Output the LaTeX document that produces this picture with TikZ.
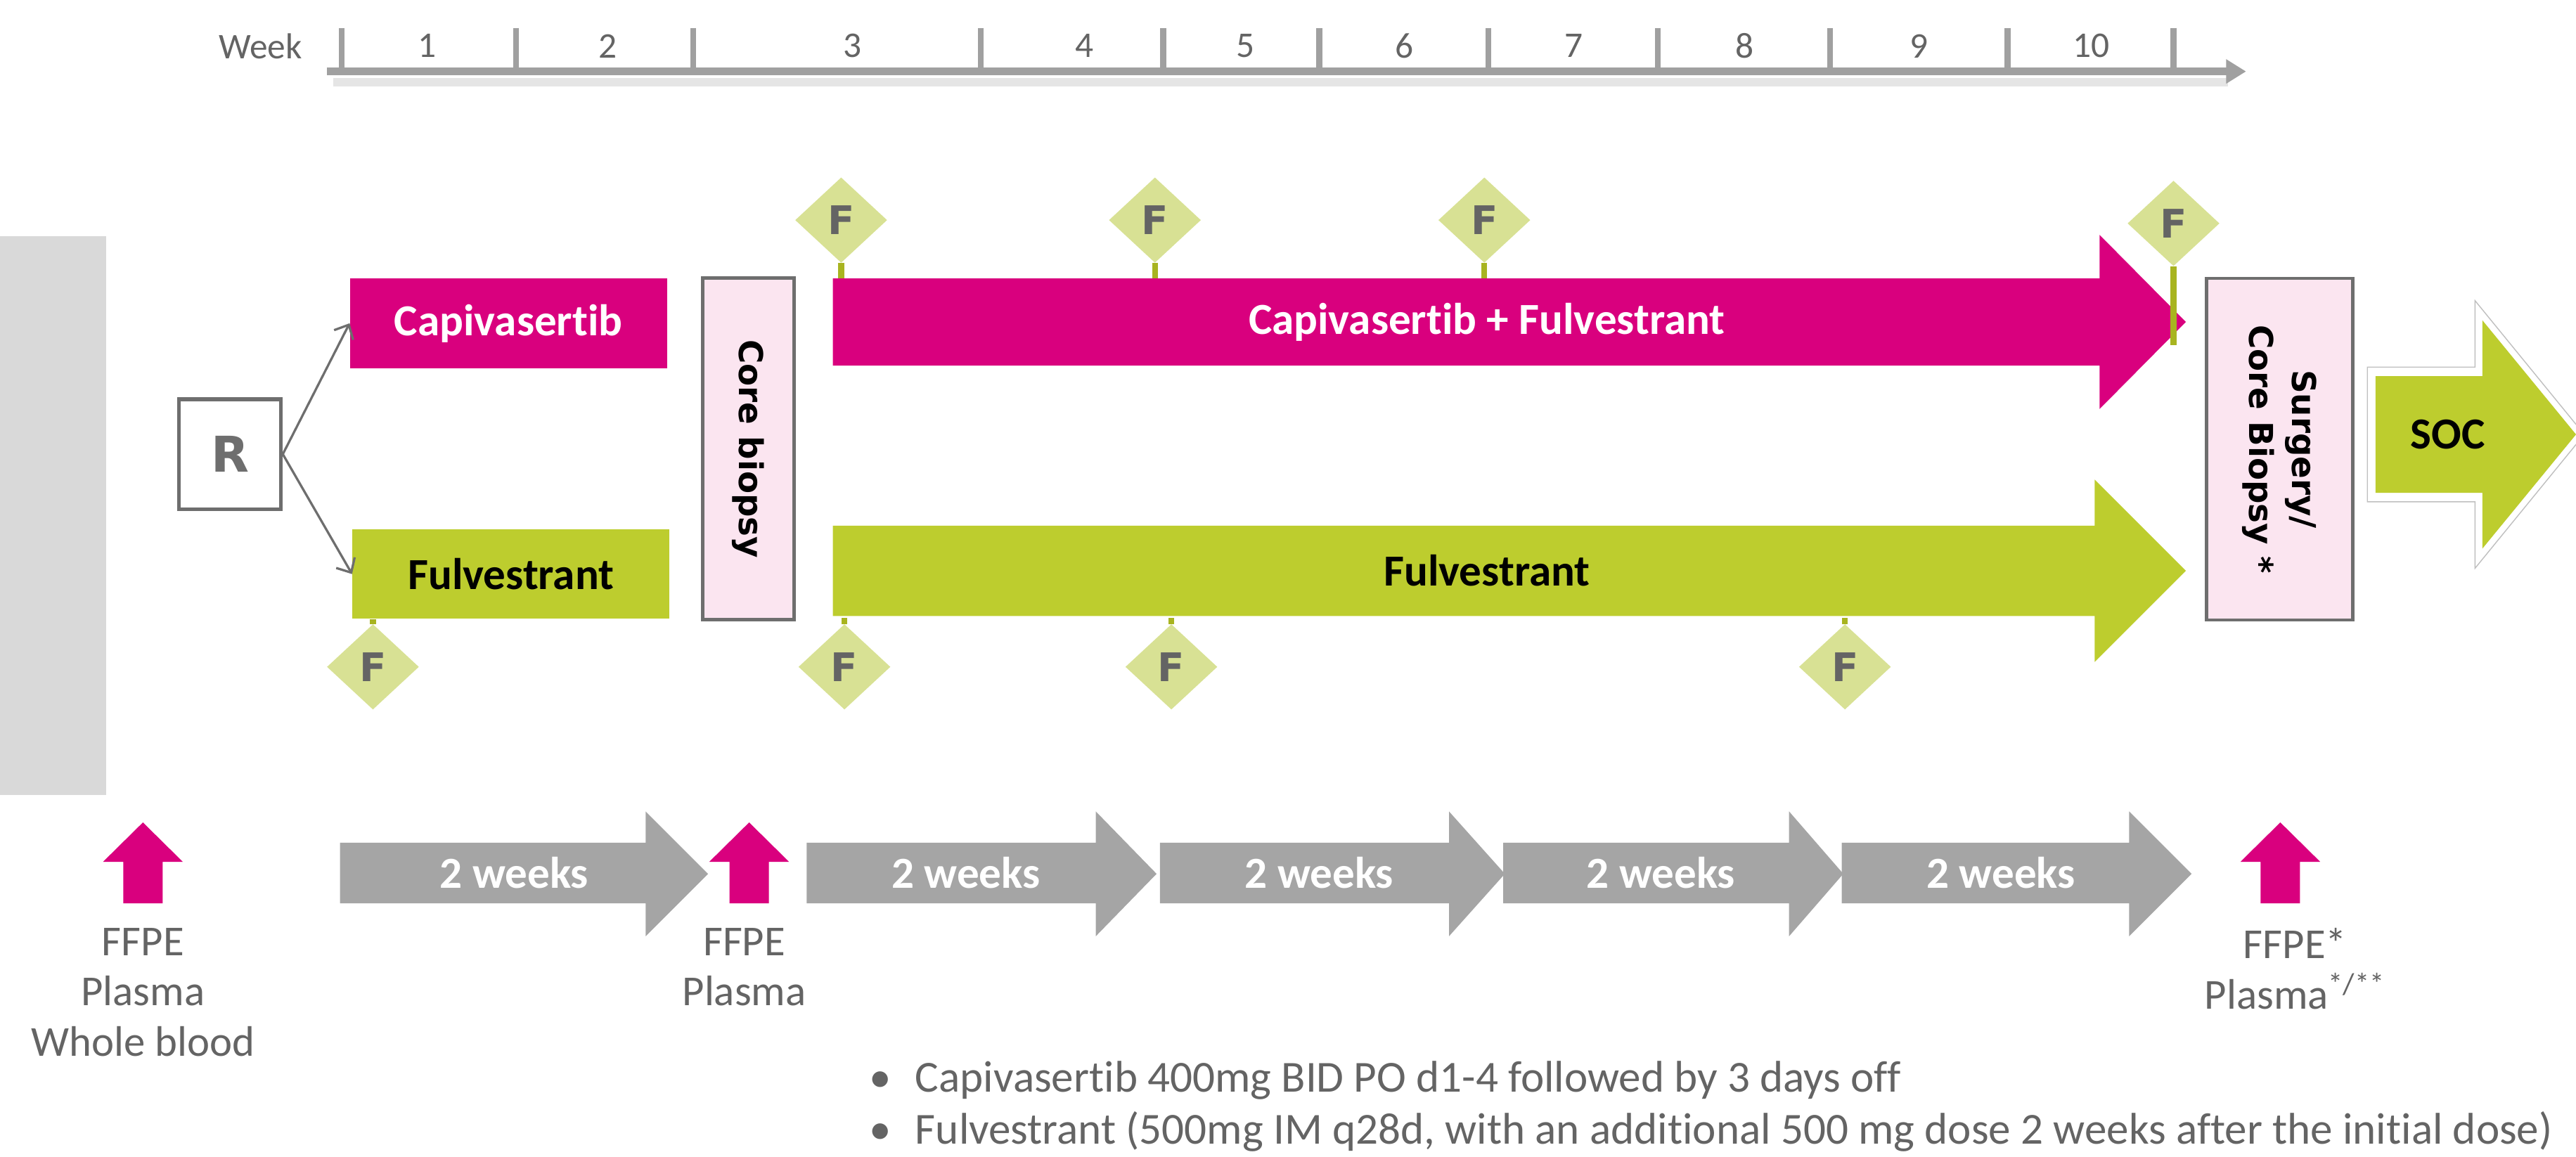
\documentclass[tikz,border=0pt]{standalone}
\usepackage{fontspec}
\setmainfont{Carlito}[Ligatures=NoCommon]
\newfontfamily\vfont{DejaVu Sans}
\usepackage{tikz}
\usetikzlibrary{arrows}
\usetikzlibrary{arrows.meta}
\usetikzlibrary{shapes.geometric}
\usetikzlibrary{positioning}

\definecolor{capired}{RGB}{217,0,126}
\definecolor{fulvgreen}{RGB}{189,205,46}
\definecolor{doselight}{RGB}{216,225,148}
\definecolor{stemgreen}{RGB}{168,180,32}
\definecolor{biopsypink}{RGB}{251,229,240}
\definecolor{boxgray}{RGB}{110,110,110}
\definecolor{sidegray}{RGB}{217,217,217}
\definecolor{weekgray}{RGB}{165,165,165}
\definecolor{axisgray}{RGB}{160,160,160}
\definecolor{labelgray}{RGB}{100,100,100}
\newcommand{\fsz}[2]{\fontsize{#1}{#2}\selectfont}

\begin{document}
\begin{tikzpicture}[x=1pt, y=-1pt]
			\tikzset{trtbox/.style = {minimum width=193pt, minimum height=54.5pt, inner sep=0pt, font=\bfseries\fsz{27}{32}}}
			\tikzset{armtext/.style = {inner sep=0pt, font=\bfseries\fsz{27}{32}}}
			\tikzset{biopsy/.style = {draw=boxgray, line width=2pt, fill=biopsypink, rotate=-90, align=center, minimum width=208pt, minimum height=55.5pt, inner sep=0pt, font=\vfont\bfseries\fsz{20}{26}}}
			\tikzset{dose/.style = {diamond, fill=doselight, minimum width=56pt, minimum height=52pt, inner sep=0pt, text=labelgray, font=\vfont\bfseries\fsz{24}{24}}}
			\tikzset{stem/.style = {draw=stemgreen, line width=3.5pt}}
			\tikzset{edge/.style = {-{Straight Barb[length=7pt, width=13pt]}, draw=boxgray, line width=1.4pt}}
			\tikzset{weeklabel/.style = {text=labelgray, font=\fsz{22}{22}}}
			\tikzset{sampletext/.style = {text=labelgray, align=center, anchor=north, inner sep=0pt, font=\fsz{26}{30.5}}}
			\useasboundingbox (0,0) rectangle (1568,704);
			% timeline
			\draw[line width=5pt, black!10] (203,50) -- (1356,50);
			\draw[line width=5pt, axisgray] (199,43.5) -- (1356,43.5);
			\fill[axisgray] (1355,36) -- (1367,43.5) -- (1355,51) -- cycle;
			\foreach \x in {208,314,422,597,708,803,906,1009,1114,1222,1323}
				\draw[line width=3.5pt, axisgray] (\x,17) -- (\x,43.5);
			\node[weeklabel] (week) at (158.5,28) {Week};
			\foreach \n/\x in {1/260,2/370,3/519,4/660,5/758,6/855,7/958,8/1062,9/1168,10/1273}
				\node[weeklabel] (wk\n) at (\x,28) {\n};
			% screening
			\fill[sidegray] (0,144) rectangle (64.6,484);
			% randomisation
			\node[draw=boxgray, line width=2.3pt, minimum width=62pt, minimum height=67pt, text=boxgray, font=\vfont\bfseries\fsz{30}{30}] (R) at (140,276.5) {R};
			\node[trtbox, fill=capired, text=white] (capi) at (309.5,196.8) {Capivasertib};
			\node[trtbox, fill=fulvgreen] (fulv) at (311,349.5) {Fulvestrant};
			\draw[edge] (R.east) -- (capi.west);
			\draw[edge] (R.east) -- (fulv.west);
			\node[biopsy] (core) at (455.5,273.3) {Core biopsy};
			% treatment arms
			\fill[capired] (507,169.5) -- (1278,169.5) -- (1278,143) -- (1330.5,196) -- (1278,249) -- (1278,222.6) -- (507,222.6) -- cycle;
			\fill[fulvgreen] (507,320) -- (1275,320) -- (1275,292) -- (1330.5,347.5) -- (1275,403) -- (1275,375) -- (507,375) -- cycle;
			\node[armtext, text=white] (combo) at (905,196) {Capivasertib + Fulvestrant};
			\node[armtext] (mono) at (905,347.5) {Fulvestrant};
			\coordinate (combotop) at (507,169.5);
			\coordinate (monobot) at (507,376);
			% fulvestrant doses
			\foreach \x/\y [count=\i] in {512/134,703/134,903.5/134,1323/136}
				\node[dose] (d\i) at (\x,\y) {F};
			\foreach \i in {1,2,3}
				\draw[stem] (d\i.south) -- (d\i.south |- combotop);
			\draw[stem] (d4.south) -- ++(0,48);
			\foreach \x [count=\i] in {227,514,713,1123}
				\node[dose] (b\i) at (\x,406) {F};
			\draw[stem] (b1.north) -- (b1.north |- fulv.south);
			\foreach \i in {2,3,4}
				\draw[stem] (b\i.north) -- (b\i.north |- monobot);
			% surgery and SOC
			\node[biopsy, minimum height=89pt] (surg) at (1387.5,273.5) {Surgery/\\Core Biopsy *};
			\filldraw[fill=white, draw=black!25, line width=0.6pt] (1441,223.5) -- (1506.5,223.5) -- (1506.5,183) -- (1573,264.5) -- (1506.5,346) -- (1506.5,305.5) -- (1441,305.5) -- cycle;
			\fill[fulvgreen] (1446,229) -- (1511,229) -- (1511,195) -- (1568,264.5) -- (1511,334) -- (1511,300) -- (1446,300) -- cycle;
			\node[armtext] (soc) at (1490,264.5) {SOC};
			% two week blocks
			\foreach \a/\b/\c/\t [count=\i] in {207/393/431/313,491/667/704/588,706/882/916/803,915/1089/1122/1011,1121/1296/1334/1218}
			{
				\fill[weekgray] (\a,513) -- (\b,513) -- (\b,494) -- (\c,532) -- (\b,570) -- (\b,550) -- (\a,550) -- cycle;
				\node[armtext, text=white] (blk\i) at (\t,531.5) {2 weeks};
			}
			% samples
			\foreach \x [count=\i] in {87,456,1388}
			{
				\fill[capired] (\x,500.7) -- (\x+24.3,524.7) -- (\x+12,524.7) -- (\x+12,550) -- (\x-12,550) -- (\x-12,524.7) -- (\x-24.3,524.7) -- cycle;
				\coordinate (up\i) at (\x,550);
			}
			\node[sampletext] (s1) at (87,565) {FFPE\\Plasma\\Whole blood};
			\node[sampletext] (s2) at (453,565) {FFPE\\Plasma};
			\node[sampletext] (s3) at (1397,565) {FFPE*\\Plasma\textsuperscript{*/**}};
			% dosing notes
			\node[anchor=north west, align=left, inner sep=0pt, text=labelgray, font=\fsz{27}{31.5}] (notes) at (529,646)
				{\makebox[28pt][l]{\textbullet}Capivasertib 400mg BID PO d1-4 followed by 3 days off\\
				 \makebox[28pt][l]{\textbullet}Fulvestrant (500mg IM q28d, with an additional 500 mg dose 2 weeks after the initial dose)};
		\end{tikzpicture}
\end{document}
